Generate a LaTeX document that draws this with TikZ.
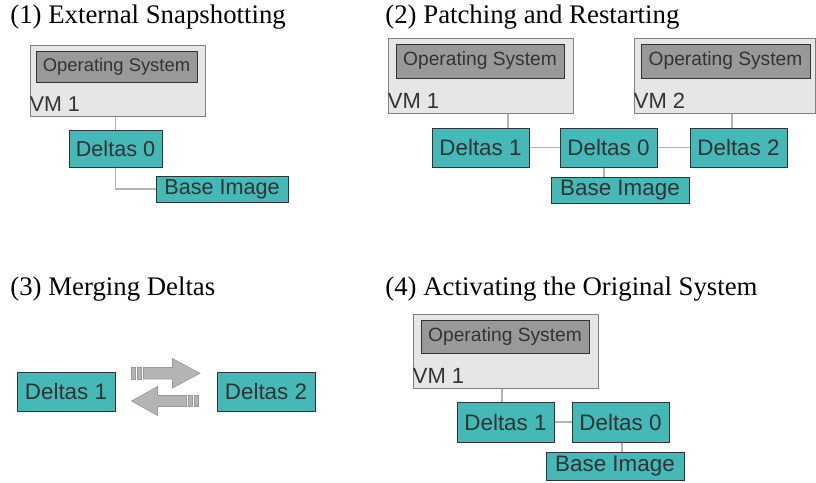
\documentclass[tikz,border=0pt]{standalone}
\usepackage{fontspec}
\setmainfont{Liberation Serif}
\newfontfamily\boxfont{Liberation Sans}
\usepackage{tikz}
\usetikzlibrary{positioning,calc}
\definecolor{deltateal}{RGB}{69,184,184}
\definecolor{vmgray}{RGB}{230,230,230}
\definecolor{osgray}{RGB}{153,153,153}
\definecolor{boxtext}{RGB}{51,51,51}
\definecolor{linkgray}{RGB}{180,180,180}
\definecolor{arrowgray}{RGB}{180,180,180}

\begin{document}
\begin{tikzpicture}[
        x=0.5pt, y=-0.5pt,
        title/.style={anchor=base west, inner sep=0, font=\fontsize{13.4}{16}\selectfont},
        vm/.style={rectangle, draw=gray, fill=vmgray, line width=0.5pt, inner sep=0},
        os/.style={rectangle, draw=boxtext, fill=osgray, text=boxtext, line width=0.5pt, inner sep=0,
            font=\boxfont\fontsize{9.6}{11}\selectfont},
        vmlabel/.style={anchor=base west, inner sep=0, text=boxtext, font=\boxfont\fontsize{11}{13}\selectfont},
        delta/.style={rectangle, draw=boxtext, fill=deltateal, text=boxtext, line width=0.5pt, inner sep=0,
            minimum width=48.5pt, minimum height=19.5pt, font=\boxfont\fontsize{11.2}{13}\selectfont},
        baseimg/.style={delta, minimum width=69pt, minimum height=13pt},
        link/.style={draw=linkgray, line width=0.6pt},
        stripe/.style={fill=arrowgray, draw=arrowgray!85!black, line width=0.3pt}
    ]
        \useasboundingbox (0,0) rectangle (816,483);

        % (1) is drawn a little smaller than the others
        \begin{scope}[
            os/.append style={font=\boxfont\fontsize{9.2}{11}\selectfont},
            vmlabel/.append style={font=\boxfont\fontsize{10.7}{12}\selectfont},
            delta/.append style={font=\boxfont\fontsize{10.8}{13}\selectfont}
        ]
        \node[title] (t1) at (10,23) {(1) External Snapshotting};
        \node[vm, minimum width=87.5pt, minimum height=35.5pt] (vmA) at (117.5,80.5) {};
        \node[os, minimum width=80.5pt, minimum height=15.5pt] (osA) at (116.5,66.5) {Operating System};
        \node[vmlabel] at ([yshift=2.5pt]vmA.south west) {VM 1};
        \node[delta, minimum width=46.5pt, minimum height=18.5pt] (d0A) at (115.5,148.5) {Deltas 0};
        \node[baseimg, minimum width=66pt] (baseA) at (222,189) {Base Image};

        \draw[link] (d0A.north) -- (d0A.north |- vmA.south);
        \draw[link] (d0A.south) |- (baseA.west);
        \end{scope}

        % (2)
        \node[title] (t2) at (385,23) {(2) Patching and Restarting};
        \node[vm, minimum width=92.5pt, minimum height=37.5pt] (vmB1) at (480.5,75.5) {};
        \node[os, minimum width=84pt, minimum height=17pt] (osB1) at (480,61) {Operating System};
        \node[vmlabel] at ([yshift=2.5pt]vmB1.south west) {VM 1};
        \node[vm, minimum width=90.5pt, minimum height=37.5pt] (vmB2) at (724.5,75.5) {};
        \node[os, minimum width=84.5pt, minimum height=17pt] (osB2) at (725.5,61) {Operating System};
        \node[vmlabel] at ([yshift=2.5pt]vmB2.south west) {VM 2};
        \node[delta] (d1B) at (480.5,147.5) {Deltas 1};
        \node[delta] (d0B) at (608.5,147.5) {Deltas 0};
        \node[delta] (d2B) at (738.5,147.5) {Deltas 2};
        \node[baseimg] (baseB) at (620,190) {Base Image};

        \draw[link] ([xshift=13.75pt]d1B.north) -- ([xshift=13.75pt]d1B.north |- vmB1.south);
        \draw[link] ([xshift=-3.25pt]d2B.north) -- ([xshift=-3.25pt]d2B.north |- vmB2.south);
        \draw[link] (d1B.east) -- (d0B.west);
        \draw[link] (d0B.east) -- (d2B.west);
        \draw[link] ([xshift=-2.25pt]d0B.south) -- ([xshift=-2.25pt]d0B.south |- baseB.north);

        % (3)
        \node[title] (t3) at (10,295) {(3) Merging Deltas};
        \node[delta, minimum width=49pt] (d1C) at (66,391.5) {Deltas 1};
        \node[delta, minimum width=49pt] (d2C) at (266,391.5) {Deltas 2};

        % striped arrows between the two deltas
        \filldraw[stripe] (143.5,367.5) -- (172.5,367.5) -- (172.5,358.5) -- (200,373.3)
            -- (172.5,388) -- (172.5,379) -- (143.5,379) -- cycle;
        \filldraw[stripe] (131.5,367.5) rectangle (135.5,379);
        \filldraw[stripe] (137.5,367.5) rectangle (141.5,379);
        \filldraw[stripe] (186.5,395.5) -- (157.5,395.5) -- (157.5,386.5) -- (131.5,401)
            -- (157.5,415.5) -- (157.5,406.5) -- (186.5,406.5) -- cycle;
        \filldraw[stripe] (188.5,395.5) rectangle (192.5,406.5);
        \filldraw[stripe] (194.5,395.5) rectangle (198.5,406.5);

        % (4)
        \node[title] (t4) at (385,295) {(4) Activating the Original System};
        \node[vm, minimum width=92.5pt, minimum height=37pt] (vmD) at (505.5,351) {};
        \node[os, minimum width=84pt, minimum height=16.5pt] (osD) at (505,336.5) {Operating System};
        \node[vmlabel] at ([yshift=2.5pt]vmD.south west) {VM 1};
        \node[delta, minimum height=20pt] (d1D) at (505.5,422) {Deltas 1};
        \node[delta, minimum height=20pt] (d0D) at (620.5,422) {Deltas 0};
        \node[baseimg, minimum height=14pt] (baseD) at (615,466) {Base Image};

        \draw[link] ([xshift=-1.75pt]d1D.north) -- ([xshift=-1.75pt]d1D.north |- vmD.south);
        \draw[link, line width=1pt] (d1D.east) -- (d0D.west);
        \draw[link] ([xshift=0.75pt]d0D.south) -- ([xshift=0.75pt]d0D.south |- baseD.north);
    \end{tikzpicture}
\end{document}
